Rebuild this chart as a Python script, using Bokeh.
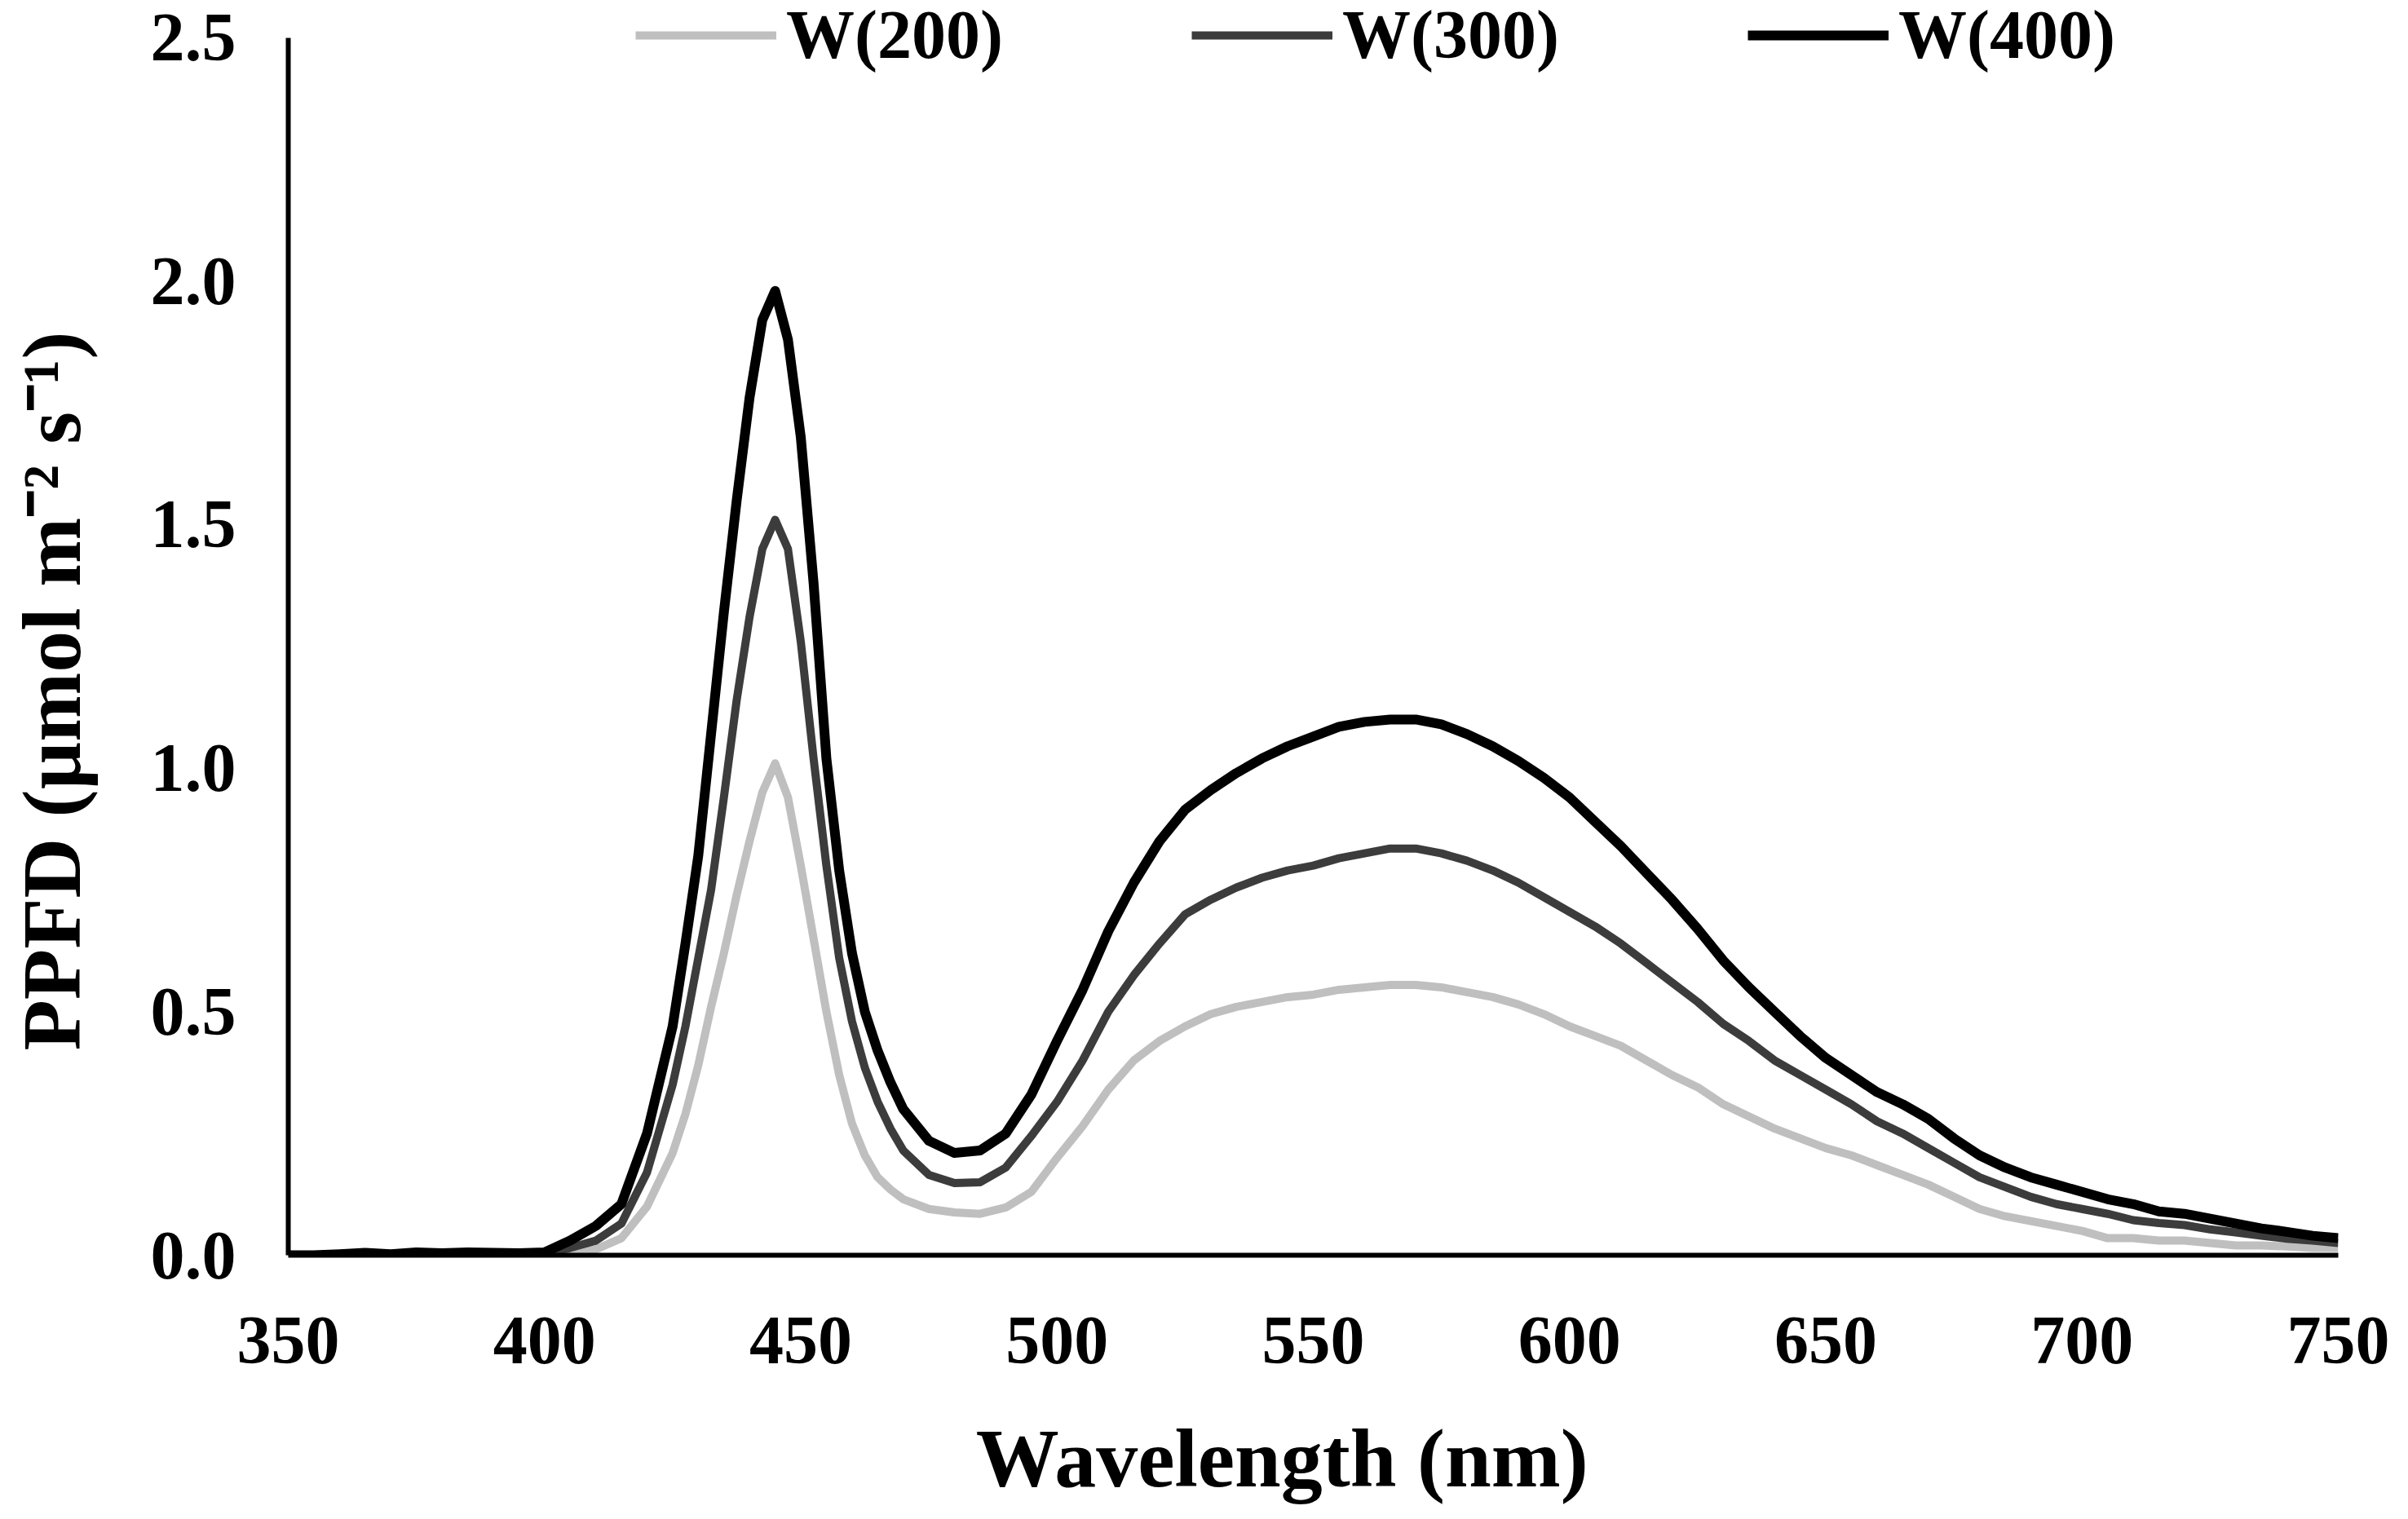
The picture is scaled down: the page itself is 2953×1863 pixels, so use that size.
from bokeh.plotting import figure
from bokeh.models import ColumnDataSource, Range1d, FixedTicker, PrintfTickFormatter, Legend, LegendItem
from bokeh.embed import file_html
from bokeh.resources import INLINE

# ---- data ----
wavelength = [350, 355, 360, 365, 370, 375, 380, 385, 390, 395, 400, 405, 410, 415, 420,
              425, 427.5, 430, 432.5, 435, 437.5, 440, 442.5, 445, 447.5, 450, 452.5, 455, 457.5,
              460, 462.5, 465, 467.5, 470,
              475, 480, 485, 490, 495, 500, 505, 510, 515, 520, 525, 530, 535, 540, 545, 550,
              555, 560, 565, 570, 575, 580, 585, 590, 595, 600, 605, 610, 615, 620, 625, 630,
              635, 640, 645, 650, 655, 660, 665, 670, 675, 680, 685, 690, 695, 700, 705, 710,
              715, 720, 725, 730, 735, 740, 745, 750]

w200 = [0.0, 0.0, 0.0, 0.001, 0.0, 0.002, 0.001, 0.002, 0.001, 0.001, 0.001, 0.003, 0.012, 0.035, 0.10,
        0.21, 0.29, 0.39, 0.51, 0.62, 0.74, 0.85, 0.95, 1.01, 0.94, 0.80, 0.65, 0.50, 0.37,
        0.27, 0.205, 0.16, 0.135, 0.115,
        0.095, 0.088, 0.085, 0.098, 0.13, 0.20, 0.265, 0.34, 0.40, 0.44, 0.47, 0.495, 0.51, 0.52, 0.53, 0.535,
        0.545, 0.55, 0.555, 0.555, 0.55, 0.54, 0.53, 0.515, 0.495, 0.47, 0.45, 0.43, 0.40, 0.37, 0.345, 0.31,
        0.285, 0.26, 0.24, 0.22, 0.205, 0.185, 0.165, 0.145, 0.12, 0.095, 0.08, 0.07, 0.06, 0.05, 0.035, 0.035,
        0.03, 0.03, 0.025, 0.02, 0.02, 0.018, 0.015, 0.015]

w300 = [0.0, 0.0, 0.001, 0.003, 0.001, 0.004, 0.002, 0.004, 0.003, 0.002, 0.003, 0.015, 0.03, 0.065, 0.17,
        0.35, 0.47, 0.61, 0.75, 0.94, 1.14, 1.31, 1.45, 1.51, 1.45, 1.26, 1.02, 0.80, 0.61,
        0.48, 0.385, 0.315, 0.26, 0.215,
        0.165, 0.148, 0.15, 0.18, 0.245, 0.315, 0.40, 0.50, 0.575, 0.64, 0.70, 0.73, 0.755, 0.775, 0.79, 0.80,
        0.815, 0.825, 0.835, 0.835, 0.825, 0.81, 0.79, 0.765, 0.735, 0.705, 0.675, 0.64, 0.60, 0.56, 0.52, 0.475,
        0.44, 0.40, 0.37, 0.34, 0.31, 0.275, 0.25, 0.22, 0.19, 0.16, 0.14, 0.12, 0.105, 0.095, 0.085, 0.072,
        0.066, 0.062, 0.053, 0.047, 0.04, 0.034, 0.03, 0.025]

w400 = [0.0, 0.0, 0.002, 0.005, 0.002, 0.006, 0.004, 0.006, 0.005, 0.004, 0.006, 0.03, 0.06, 0.105, 0.25,
        0.47, 0.64, 0.82, 1.07, 1.32, 1.55, 1.76, 1.92, 1.98, 1.88, 1.68, 1.38, 1.02, 0.79,
        0.62, 0.50, 0.42, 0.355, 0.30,
        0.235, 0.21, 0.215, 0.25, 0.33, 0.44, 0.545, 0.665, 0.765, 0.85, 0.915, 0.955, 0.99, 1.02, 1.045, 1.065,
        1.085, 1.095, 1.10, 1.10, 1.09, 1.07, 1.045, 1.015, 0.98, 0.94, 0.89, 0.84, 0.785, 0.73, 0.67, 0.605,
        0.55, 0.50, 0.45, 0.405, 0.37, 0.335, 0.31, 0.28, 0.24, 0.205, 0.18, 0.16, 0.145, 0.13, 0.115, 0.105,
        0.09, 0.085, 0.075, 0.065, 0.055, 0.048, 0.04, 0.035]

series_names = ["W(200)", "W(300)", "W(400)"]
series_colors = ["#bfbfbf", "#3c3c3c", "#000000"]
series_widths = [10, 10, 12]

x_ticks = [350, 400, 450, 500, 550, 600, 650, 700, 750]
y_ticks = [0.0, 0.5, 1.0, 1.5, 2.0, 2.5]

x_title = "Wavelength (nm)"
y_title = "PPFD (\u00b5mol m\u207b\u00b2 s\u207b\u00b9)"

FONT = "Liberation Serif"
NBSP = "\u00a0"

src = ColumnDataSource(data=dict(wl=wavelength, w200=w200, w300=w300, w400=w400))

# The frame reaches a little above 2.5 so the legend (drawn at the 2.5 level) is not
# clipped; the y axis line itself stops at 2.5 through its bounds.
p = figure(width=2937, height=1847, output_backend="svg", toolbar_location=None,
           x_range=Range1d(350, 750), y_range=Range1d(0, 2.573),
           min_border_left=353, min_border_right=70, min_border_top=2, min_border_bottom=292)
p.outline_line_color = None
p.grid.visible = False
p.background_fill_color = "white"
p.border_fill_color = "white"

renderers = []
for col, name, color, lw in zip(["w200", "w300", "w400"], series_names, series_colors, series_widths):
    r = p.line("wl", col, source=src, line_color=color, line_width=lw, line_join="round")
    renderers.append((name, r))

for ax in (p.xaxis[0], p.yaxis[0]):
    ax.axis_line_color = "black"
    ax.axis_line_width = 6
    ax.major_tick_line_color = None
    ax.minor_tick_line_color = None
    ax.major_label_text_font = FONT
    ax.major_label_text_font_style = "bold"
    ax.major_label_text_font_size = "84px"
    ax.major_label_text_color = "black"
    ax.axis_label_text_font = FONT
    ax.axis_label_text_font_style = "bold"
    ax.axis_label_text_font_size = "102px"
    ax.axis_label_text_color = "black"

p.xaxis[0].ticker = FixedTicker(ticks=x_ticks)
p.yaxis[0].ticker = FixedTicker(ticks=y_ticks)
p.yaxis[0].bounds = (y_ticks[0], y_ticks[-1])
p.yaxis[0].formatter = PrintfTickFormatter(format="%.1f")
p.xaxis[0].major_label_standoff = 70
p.yaxis[0].major_label_standoff = 58
# trailing no-break spaces nudge the centred titles to where the reference has them
p.xaxis[0].axis_label = x_title + NBSP * 3
p.yaxis[0].axis_label = y_title + NBSP * 6
p.xaxis[0].axis_label_standoff = 57
p.yaxis[0].axis_label_standoff = 62

legend = Legend(items=[LegendItem(label=n, renderers=[r]) for n, r in renderers],
                orientation="horizontal", location=(426, 1448),
                glyph_width=173, glyph_height=60, label_standoff=12, spacing=231,
                padding=0, margin=0, border_line_color=None, background_fill_alpha=0,
                label_text_font=FONT, label_text_font_style="bold", label_text_font_size="84px",
                label_text_color="black")
p.add_layout(legend, "center")

open("out.html", "w").write(file_html(p, INLINE))
